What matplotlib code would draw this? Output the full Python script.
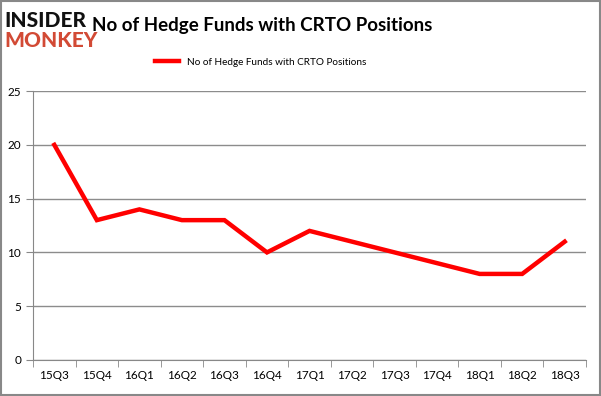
import matplotlib.pyplot as plt
from matplotlib.patches import Rectangle

quarters = ["15Q3", "15Q4", "16Q1", "16Q2", "16Q3", "16Q4", "17Q1",
            "17Q2", "17Q3", "17Q4", "18Q1", "18Q2", "18Q3"]
funds = [20, 13, 14, 13, 13, 10, 12, 11, 10, 9, 8, 8, 11]
y_ticks = [0, 5, 10, 15, 20, 25]
series_name = "No of Hedge Funds with CRTO Positions"

plt.rcParams['font.family'] = ['Lato', 'DejaVu Sans']

fig = plt.figure(figsize=(6.01, 3.96), dpi=100)
ax = fig.add_axes([0.055, 0.091, 0.920, 0.679])

x = list(range(len(quarters)))
line, = ax.plot(x, funds, color="#ff0000", linewidth=3.2,
                solid_joinstyle="miter", label=series_name)

ax.set_xlim(-0.5, len(quarters) - 0.5)
ax.set_ylim(0, 25)
ax.set_yticks(y_ticks)
ax.set_xticks(x)
ax.set_xticklabels(quarters)
ax.set_xticks([i - 0.5 for i in range(len(quarters) + 1)], minor=True)
ax.tick_params(axis="x", which="major", length=0, labelsize=8.5, pad=7)
ax.tick_params(axis="x", which="minor", length=5, color="#888888")
ax.tick_params(axis="y", length=5, color="#888888", labelsize=8.5)
ax.grid(axis="y", color="#8c8c8c", linewidth=1)
ax.set_axisbelow(True)
for side in ["top", "right"]:
    ax.spines[side].set_visible(False)
for side in ["left", "bottom"]:
    ax.spines[side].set_color("#888888")

fig.text(0.436, 0.935, "No of Hedge Funds with CRTO Positions",
         ha="center", va="center", fontsize=13.5, fontweight="bold")
fig.legend(handles=[line], loc="center", bbox_to_anchor=(0.433, 0.843),
           frameon=False, fontsize=7.2, handlelength=2.4)

# logo
fig.text(0.008, 0.948, "INSIDER", fontsize=15, fontweight="black",
         color="#111111", va="center", ha="left")
fig.text(0.008, 0.897, "MONKEY", fontsize=15, fontweight="black",
         color="#d24a35", va="center", ha="left")

fig.patches.append(Rectangle((0.001, 0.002), 0.997, 0.995, transform=fig.transFigure,
                             fill=False, edgecolor="#888888", linewidth=1.5))

fig.savefig("out.png", dpi=100)
